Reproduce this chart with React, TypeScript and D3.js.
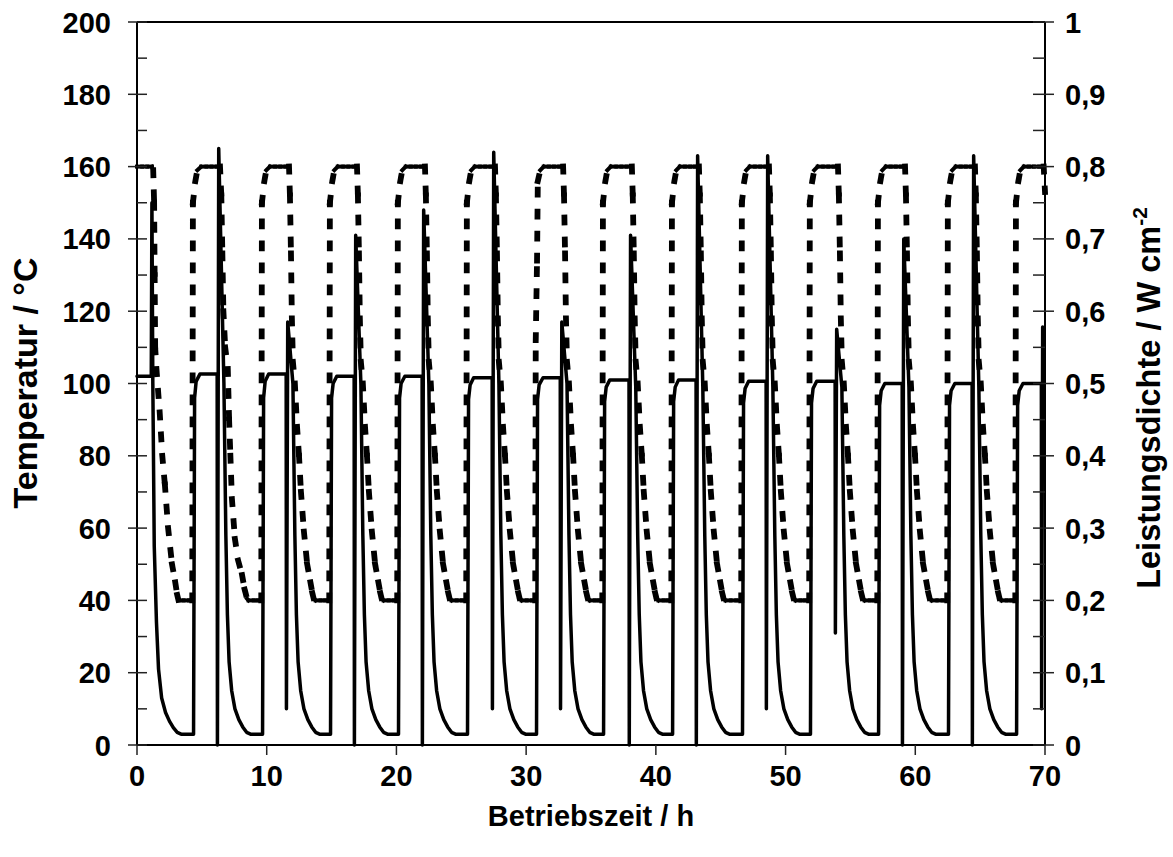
import React from "react";
import * as d3 from "d3";

// Temperature (°C) over operating time (h): heat-up to 160 °C, hold, cool down to 40 °C
const temperature: [number, number][] = [
  [0, 160], [0.4, 160], [0.8, 160], [1.15, 160],
  [1.25, 159], [1.32, 150], [1.36, 130], [1.4, 110], [1.5, 104], [1.75, 92], [1.95, 80], [2.15, 72], [2.4, 60], [2.7, 50], [2.95, 45], [3.1, 41.5], [3.2, 40], [3.6, 40], [4.0, 40], [4.26, 40],
  [4.31, 150], [4.5, 156], [4.65, 159], [4.95, 160], [5.35, 160], [5.75, 160], [6.15, 160], [6.4, 160],
  [6.5, 152], [6.58, 136], [6.66, 120], [6.8, 110], [7.0, 104], [7.1, 90], [7.2, 80], [7.32, 68], [7.55, 57], [7.8, 51], [8.1, 47], [8.3, 43], [8.48, 40.5], [8.6, 40], [9.0, 40], [9.3, 40], [9.58, 40],
  [9.63, 150], [9.82, 156], [9.97, 159], [10.25, 160], [10.65, 160], [11.05, 160], [11.45, 160], [11.72, 160],
  [11.79, 152], [11.87, 136], [11.94, 118], [12.02, 106], [12.17, 100], [12.34, 88], [12.49, 80], [12.64, 70], [12.87, 59], [13.12, 50], [13.37, 45], [13.52, 42], [13.62, 40.5], [13.77, 40], [14.15, 40], [14.5, 40], [14.82, 40],
  [14.87, 150], [15.06, 156], [15.21, 159], [15.48, 160], [15.9, 160], [16.3, 160], [16.7, 160], [16.96, 160],
  [17.03, 152], [17.11, 136], [17.18, 118], [17.26, 106], [17.41, 100], [17.58, 88], [17.73, 80], [17.88, 70], [18.11, 59], [18.36, 50], [18.61, 45], [18.76, 42], [18.86, 40.5], [19.01, 40], [19.4, 40], [19.8, 40], [20.06, 40],
  [20.11, 150], [20.3, 156], [20.45, 159], [20.72, 160], [21.1, 160], [21.5, 160], [21.9, 160], [22.2, 160],
  [22.27, 152], [22.35, 136], [22.42, 118], [22.5, 106], [22.65, 100], [22.82, 88], [22.97, 80], [23.12, 70], [23.35, 59], [23.6, 50], [23.85, 45], [24.0, 42], [24.1, 40.5], [24.25, 40], [24.65, 40], [25.05, 40], [25.38, 40],
  [25.43, 150], [25.62, 156], [25.77, 159], [26.04, 160], [26.45, 160], [26.85, 160], [27.25, 160], [27.6, 160],
  [27.67, 152], [27.75, 136], [27.82, 118], [27.9, 106], [28.05, 100], [28.22, 88], [28.37, 80], [28.52, 70], [28.75, 59], [29.0, 50], [29.25, 45], [29.4, 42], [29.5, 40.5], [29.65, 40], [30.05, 40], [30.45, 40], [30.7, 40],
  [30.74, 112], [30.84, 134], [30.9, 156], [31.09, 159], [31.36, 160], [31.75, 160], [32.15, 160], [32.55, 160], [32.85, 160],
  [32.92, 152], [33.0, 136], [33.07, 118], [33.15, 106], [33.3, 100], [33.47, 88], [33.62, 80], [33.77, 70], [34.0, 59], [34.25, 50], [34.5, 45], [34.65, 42], [34.75, 40.5], [34.9, 40], [35.3, 40], [35.6, 40], [35.87, 40],
  [35.92, 150], [36.11, 156], [36.26, 159], [36.53, 160], [36.95, 160], [37.35, 160], [37.75, 160], [38.15, 160],
  [38.22, 152], [38.3, 136], [38.37, 118], [38.45, 106], [38.6, 100], [38.77, 88], [38.92, 80], [39.07, 70], [39.3, 59], [39.55, 50], [39.8, 45], [39.95, 42], [40.05, 40.5], [40.2, 40], [40.6, 40], [40.9, 40], [41.19, 40],
  [41.24, 150], [41.43, 156], [41.58, 159], [41.85, 160], [42.25, 160], [42.65, 160], [43.0, 160], [43.32, 160],
  [43.39, 152], [43.47, 136], [43.54, 118], [43.62, 106], [43.77, 100], [43.94, 88], [44.09, 80], [44.24, 70], [44.47, 59], [44.72, 50], [44.97, 45], [45.12, 42], [45.22, 40.5], [45.37, 40], [45.8, 40], [46.2, 40], [46.58, 40],
  [46.63, 150], [46.82, 156], [46.97, 159], [47.24, 160], [47.65, 160], [48.05, 160], [48.45, 160], [48.72, 160],
  [48.79, 152], [48.87, 136], [48.94, 118], [49.02, 106], [49.17, 100], [49.34, 88], [49.49, 80], [49.64, 70], [49.87, 59], [50.12, 50], [50.37, 45], [50.52, 42], [50.62, 40.5], [50.77, 40], [51.15, 40], [51.5, 40], [51.82, 40],
  [51.87, 150], [52.06, 156], [52.21, 159], [52.48, 160], [52.9, 160], [53.3, 160], [53.7, 160], [54.04, 160],
  [54.11, 152], [54.19, 136], [54.26, 118], [54.34, 106], [54.49, 100], [54.66, 88], [54.81, 80], [54.96, 70], [55.19, 59], [55.44, 50], [55.69, 45], [55.84, 42], [55.94, 40.5], [56.09, 40], [56.5, 40], [56.8, 40], [57.07, 40],
  [57.12, 150], [57.31, 156], [57.46, 159], [57.73, 160], [58.1, 160], [58.5, 160], [58.9, 160], [59.21, 160],
  [59.28, 152], [59.36, 136], [59.43, 118], [59.51, 106], [59.66, 100], [59.83, 88], [59.98, 80], [60.13, 70], [60.36, 59], [60.61, 50], [60.86, 45], [61.01, 42], [61.11, 40.5], [61.26, 40], [61.7, 40], [62.1, 40], [62.46, 40],
  [62.51, 150], [62.7, 156], [62.85, 159], [63.12, 160], [63.5, 160], [63.9, 160], [64.3, 160], [64.6, 160],
  [64.67, 152], [64.75, 136], [64.82, 118], [64.9, 106], [65.05, 100], [65.22, 88], [65.37, 80], [65.52, 70], [65.75, 59], [66.0, 50], [66.25, 45], [66.4, 42], [66.5, 40.5], [66.65, 40], [67.05, 40], [67.4, 40], [67.71, 40],
  [67.76, 150], [67.95, 156], [68.1, 159], [68.37, 160], [68.75, 160], [69.15, 160], [69.55, 160], [69.9, 160], [70.0, 153],
];

// Power density (W cm^-2) over operating time (h)
const powerDensity: [number, number][] = [
  [0, 0.51], [1.1, 0.51], [1.15, 0.75],
  [1.22, 0.5], [1.33, 0.275], [1.5, 0.17], [1.66, 0.105], [1.9, 0.065], [2.2, 0.045], [2.5, 0.033], [2.8, 0.024], [3.1, 0.0175], [3.4, 0.015], [4.36, 0.015],
  [4.44, 0.48], [4.56, 0.503], [4.85, 0.513], [6.18, 0.513],
  [6.2, 0], [6.3, 0.825],
  [6.7, 0.5], [6.85, 0.29], [6.97, 0.18], [7.1, 0.115], [7.3, 0.075], [7.55, 0.05], [7.85, 0.035], [8.15, 0.025], [8.45, 0.0175], [8.75, 0.015], [9.68, 0.015],
  [9.76, 0.48], [9.88, 0.503], [10.15, 0.513], [11.5, 0.513],
  [11.52, 0.05], [11.62, 0.585],
  [12.02, 0.5], [12.17, 0.29], [12.29, 0.18], [12.42, 0.115], [12.62, 0.075], [12.87, 0.05], [13.17, 0.035], [13.47, 0.025], [13.77, 0.0175], [14.07, 0.015], [14.92, 0.015],
  [15.0, 0.48], [15.12, 0.5], [15.4, 0.51], [16.74, 0.51],
  [16.76, 0], [16.86, 0.705],
  [17.26, 0.5], [17.41, 0.29], [17.53, 0.18], [17.66, 0.115], [17.86, 0.075], [18.11, 0.05], [18.41, 0.035], [18.71, 0.025], [19.01, 0.0175], [19.31, 0.015], [20.16, 0.015],
  [20.24, 0.48], [20.36, 0.5], [20.65, 0.51], [21.98, 0.51],
  [22.0, 0], [22.1, 0.74],
  [22.5, 0.5], [22.65, 0.29], [22.77, 0.18], [22.9, 0.115], [23.1, 0.075], [23.35, 0.05], [23.65, 0.035], [23.95, 0.025], [24.25, 0.0175], [24.55, 0.015], [25.48, 0.015],
  [25.56, 0.478], [25.68, 0.498], [25.95, 0.508], [27.38, 0.508],
  [27.4, 0.05], [27.5, 0.82],
  [27.9, 0.5], [28.05, 0.29], [28.17, 0.18], [28.3, 0.115], [28.5, 0.075], [28.75, 0.05], [29.05, 0.035], [29.35, 0.025], [29.65, 0.0175], [29.95, 0.015], [30.8, 0.015],
  [30.88, 0.478], [31.0, 0.498], [31.3, 0.508], [32.63, 0.508],
  [32.65, 0.05], [32.75, 0.585],
  [33.15, 0.5], [33.3, 0.29], [33.42, 0.18], [33.55, 0.115], [33.75, 0.075], [34.0, 0.05], [34.3, 0.035], [34.6, 0.025], [34.9, 0.0175], [35.2, 0.015], [35.97, 0.015],
  [36.05, 0.475], [36.17, 0.495], [36.45, 0.505], [37.93, 0.505],
  [37.95, 0], [38.05, 0.705],
  [38.45, 0.495], [38.6, 0.29], [38.72, 0.18], [38.85, 0.115], [39.05, 0.075], [39.3, 0.05], [39.6, 0.035], [39.9, 0.025], [40.2, 0.0175], [40.5, 0.015], [41.29, 0.015],
  [41.37, 0.475], [41.49, 0.495], [41.75, 0.505], [43.1, 0.505],
  [43.12, 0], [43.22, 0.815],
  [43.62, 0.495], [43.77, 0.29], [43.89, 0.18], [44.02, 0.115], [44.22, 0.075], [44.47, 0.05], [44.77, 0.035], [45.07, 0.025], [45.37, 0.0175], [45.67, 0.015], [46.68, 0.015],
  [46.76, 0.473], [46.88, 0.493], [47.15, 0.503], [48.5, 0.503],
  [48.52, 0.05], [48.62, 0.815],
  [49.02, 0.495], [49.17, 0.29], [49.29, 0.18], [49.42, 0.115], [49.62, 0.075], [49.87, 0.05], [50.17, 0.035], [50.47, 0.025], [50.77, 0.0175], [51.07, 0.015], [51.92, 0.015],
  [52.0, 0.473], [52.12, 0.493], [52.4, 0.503], [53.82, 0.503],
  [53.84, 0.155], [53.94, 0.575],
  [54.34, 0.495], [54.49, 0.29], [54.61, 0.18], [54.74, 0.115], [54.94, 0.075], [55.19, 0.05], [55.49, 0.035], [55.79, 0.025], [56.09, 0.0175], [56.39, 0.015], [57.17, 0.015],
  [57.25, 0.47], [57.37, 0.49], [57.65, 0.5], [58.99, 0.5],
  [59.01, 0], [59.11, 0.7],
  [59.51, 0.495], [59.66, 0.29], [59.78, 0.18], [59.91, 0.115], [60.11, 0.075], [60.36, 0.05], [60.66, 0.035], [60.96, 0.025], [61.26, 0.0175], [61.56, 0.015], [62.56, 0.015],
  [62.64, 0.47], [62.76, 0.49], [63.05, 0.5], [64.38, 0.5],
  [64.4, 0], [64.5, 0.815],
  [64.9, 0.495], [65.05, 0.29], [65.17, 0.18], [65.3, 0.115], [65.5, 0.075], [65.75, 0.05], [66.05, 0.035], [66.35, 0.025], [66.65, 0.0175], [66.95, 0.015], [67.81, 0.015],
  [67.89, 0.47], [68.01, 0.49], [68.3, 0.5], [69.72, 0.5],
  [69.74, 0.05], [69.82, 0.578],
];

const timeTicks = [0, 10, 20, 30, 40, 50, 60, 70];
const tempTicks = [0, 20, 40, 60, 80, 100, 120, 140, 160, 180, 200];
const tempMinorTicks = [10, 30, 50, 70, 90, 110, 130, 150, 170, 190];
const powerTicks = [0, 0.1, 0.2, 0.3, 0.4, 0.5, 0.6, 0.7, 0.8, 0.9, 1];
const powerTickLabels = ["0", "0,1", "0,2", "0,3", "0,4", "0,5", "0,6", "0,7", "0,8", "0,9", "1"];
const powerMinorTicks = [0.05, 0.15, 0.25, 0.35, 0.45, 0.55, 0.65, 0.75, 0.85, 0.95];

const W = 1173;
const H = 857;
const left = 137;
const right = 1045;
const top = 22;
const bottom = 745;
const font = "'Liberation Sans', Arial, Helvetica, sans-serif";
const fs = 29;

export default function App() {
  const x = d3.scaleLinear().domain([0, 70]).range([left, right]);
  const yT = d3.scaleLinear().domain([0, 200]).range([bottom, top]);
  const yP = d3.scaleLinear().domain([0, 1]).range([bottom, top]);

  const tempLine = d3
    .line<[number, number]>()
    .x((d) => x(d[0]))
    .y((d) => yT(d[1]));
  const powerLine = d3
    .line<[number, number]>()
    .x((d) => x(d[0]))
    .y((d) => yP(d[1]));

  // dotted series: each segment carries its own dash pattern, restarting at every data point;
  // level holds are drawn a little finer than the dashes of the ramps
  const tempSegments = d3.pairs(temperature);

  return (
    <svg
      width={W}
      height={H}
      viewBox={`0 0 ${W} ${H}`}
      style={{ position: "absolute", left: 0, top: 0, background: "#fff" }}
    >
      <rect x={0} y={0} width={W} height={H} fill="#fff" />

      {/* series */}
      <g fill="none" stroke="#000">
        <path d={powerLine(powerDensity) || ""} strokeWidth={3.5} strokeLinejoin="round" strokeLinecap="round" />
        {tempSegments.map((s, i) => (
          <path
            key={i}
            d={tempLine(s) || ""}
            strokeWidth={Math.abs(s[1][1] - s[0][1]) < 1.5 ? 4 : 5.8}
            strokeDasharray="5 17"
            strokeLinecap="square"
          />
        ))}
      </g>

      {/* frame and axes */}
      <g stroke="#000" strokeWidth={2} fill="none">
        <line x1={left} y1={top} x2={right} y2={top} />
        <line x1={left} y1={top} x2={left} y2={bottom} />
        <line x1={right} y1={top} x2={right} y2={bottom} />
        <line x1={left} y1={bottom} x2={right} y2={bottom} />
      </g>

      <g stroke="#222" strokeWidth={1.5}>
        {tempTicks.map((t) => (
          <line key={"lt" + t} x1={left - 9} x2={left + 10} y1={yT(t)} y2={yT(t)} />
        ))}
        {tempMinorTicks.map((t) => (
          <line key={"lm" + t} x1={left} x2={left + 10} y1={yT(t)} y2={yT(t)} />
        ))}
        {powerTicks.map((t) => (
          <line key={"rt" + t} x1={right - 12} x2={right + 9} y1={yP(t)} y2={yP(t)} />
        ))}
        {powerMinorTicks.map((t) => (
          <line key={"rm" + t} x1={right - 12} x2={right} y1={yP(t)} y2={yP(t)} />
        ))}
        {timeTicks.map((t) => (
          <line key={"xt" + t} x1={x(t)} x2={x(t)} y1={bottom} y2={bottom + 10} />
        ))}
      </g>

      <g fontFamily={font} fontWeight="bold" fontSize={fs} fill="#000">
        {tempTicks.map((t) => (
          <text key={"ltl" + t} x={111} y={yT(t) + 10.5} textAnchor="end">
            {t}
          </text>
        ))}
        {powerTicks.map((t, i) => (
          <text key={"rtl" + t} x={1065} y={yP(t) + 10.5} textAnchor="start">
            {powerTickLabels[i]}
          </text>
        ))}
        {timeTicks.map((t) => (
          <text key={"xtl" + t} x={x(t)} y={786} textAnchor="middle">
            {t}
          </text>
        ))}
        <text x={591} y={826} textAnchor="middle">
          Betriebszeit / h
        </text>
        <text transform={`translate(37,383) rotate(-90)`} textAnchor="middle" fontSize={34}>
          Temperatur / °C
        </text>
        <text transform={`translate(1160,398) rotate(-90)`} textAnchor="middle" fontSize={32.5}>
          Leistungsdichte / W cm
          <tspan dy={-13} fontSize={21}>
            -2
          </tspan>
        </text>
      </g>
    </svg>
  );
}
